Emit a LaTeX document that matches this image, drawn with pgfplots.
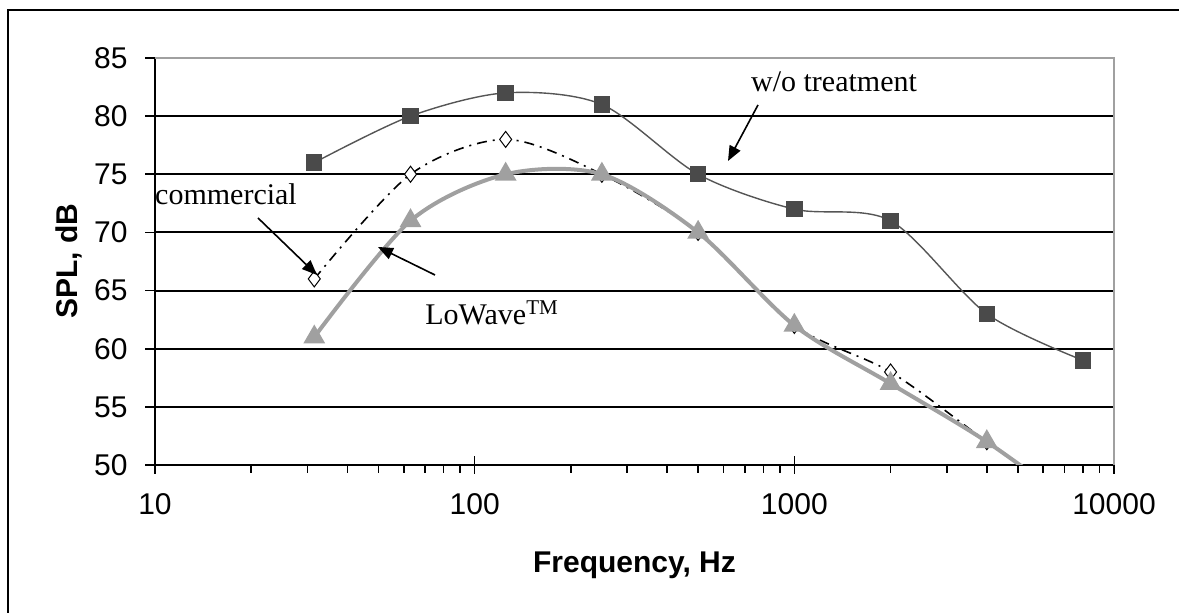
\documentclass[border=0pt]{standalone}
\usepackage{pgfplots}
\pgfplotsset{compat=1.18}
\usepackage{pgfplotstable}
\usepackage{fontspec}
\setmainfont{Liberation Serif}
\newfontfamily\arial{Liberation Sans}
\usetikzlibrary{arrows.meta}
\definecolor{sqc}{HTML}{4A4A4A}
\definecolor{sql}{HTML}{555555}
\definecolor{lowc}{HTML}{A0A0A0}
\definecolor{framec}{HTML}{A0A0A0}

\pgfplotstableread{
f v
31.5 76
63 80
125 82
250 81
500 75
1000 72
2000 71
4000 63
8000 59
}\wot
\pgfplotstableread{
f v
31.5 66
63 75
125 78
250 75
500 70
1000 62
2000 58
4000 52
8000 46
}\comm
\pgfplotstableread{
f v
31.5 61
63 71
125 75
250 75
500 70
1000 62
2000 57
4000 52
8000 46
}\lowave

\begin{document}
\begin{tikzpicture}[x=0.5pt,y=0.5pt]
\useasboundingbox (0,0) rectangle (1179,613);
\draw[line width=1pt] (8,-5) -- (8,602.5) -- (1190,602.5);
\begin{axis}[
  at={(77.5pt,74pt)}, anchor=south west, scale only axis,
  width=479.5pt, height=203.5pt,
  xmode=log, xmin=10, xmax=10000, ymin=50, ymax=85,
  xtick={10,100,1000,10000}, xticklabels={10,100,1000,10000},
  ytick={50,55,60,65,70,75,80,85},
  axis x line*=bottom, axis y line*=left,
  axis line style={line width=1pt, black},
  ymajorgrids, major grid style={line width=1pt, black},
  xtick align=center, ytick align=outside,
  major tick length=5pt, minor tick length=4pt,
  tick style={black, line width=0.8pt},
  minor x tick style={yshift=-2pt},
  extra x ticks={10,100,1000,10000}, extra x tick labels={},
  extra x tick style={major tick length=9pt, xtick align=center, grid=none},
  tick label style={font=\arial\fontsize{15}{18}\selectfont, inner sep=0pt},
  /pgf/number format/assume math mode=true,
  yticklabel style={anchor=east, xshift=-8.5pt},
  xticklabel style={anchor=north, yshift=-11.5pt},
  xlabel={Frequency, Hz}, ylabel={SPL, dB},
  label style={font=\arial\bfseries\fontsize{15}{18}\selectfont},
  xlabel style={at={(axis description cs:0.5,-0.265)}, anchor=base},
  ylabel style={at={(axis description cs:-0.081,0.5)}, anchor=base},
  after end axis/.code={
    \draw[framec, line width=1pt] (rel axis cs:0,1) -- (rel axis cs:1,1) -- (rel axis cs:1,0);
  },
]
\addplot[sql, line width=0.7pt, smooth, mark=square*, mark size=3.75pt,
  mark options={solid, fill=sqc, draw=sqc}] table[x=f,y=v]{\wot};
\addplot[black, line width=0.8pt, smooth, dash pattern=on 5pt off 3pt on 1pt off 3pt,
  mark=diamond*, mark size=4pt, mark options={solid, fill=white, draw=black, line width=0.5pt}] table[x=f,y=v]{\comm};
\addplot[lowc, line width=2pt, smooth, mark=triangle*, mark size=4.3pt,
  mark options={solid, fill=lowc, draw=lowc}] table[x=f,y=v]{\lowave};
\end{axis}
\node[font=\fontsize{15}{18}\selectfont, anchor=base] at (834,521) {w/o treatment};
\draw[-{Triangle[length=7.5pt,width=6pt]}, line width=0.8pt] (758,508) -- (728,452);
\node[font=\fontsize{15}{18}\selectfont, anchor=base] at (226,408) {commercial};
\draw[-{Triangle[length=7.5pt,width=6pt]}, line width=0.8pt] (258,395) -- (317,338);
\node[font=\fontsize{15}{18}\selectfont, anchor=base west, inner sep=0pt] at (425,288) {LoWave\textsuperscript{TM}};
\draw[-{Triangle[length=7.5pt,width=6pt]}, line width=0.8pt] (435,338) -- (378,366);
\end{tikzpicture}
\end{document}
